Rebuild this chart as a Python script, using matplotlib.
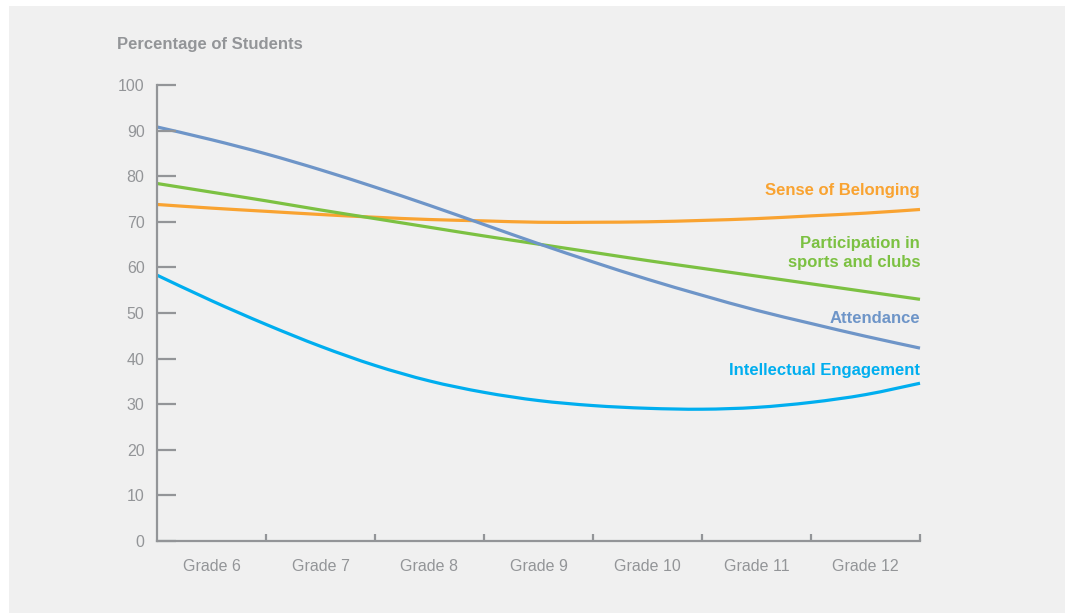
import matplotlib
matplotlib.use("Agg")
import matplotlib.pyplot as plt
import numpy as np
from matplotlib.patches import Rectangle, PathPatch
from matplotlib.path import Path

# ---- data ----
grades = ["Grade 6", "Grade 7", "Grade 8", "Grade 9", "Grade 10", "Grade 11", "Grade 12"]
# sample positions along the grade axis (band edges and band centres)
x_pos = [0, 0.5, 1, 1.5, 2, 2.5, 3, 3.5, 4, 4.5, 5, 5.5, 6, 6.5, 7]

attendance = [90.8, 88.0, 84.9, 81.4, 77.6, 73.6, 69.4, 65.2, 61.2, 57.4, 53.9, 50.6, 47.7, 44.9, 42.3]
belonging = [73.8, 73.0, 72.3, 71.6, 71.0, 70.5, 70.2, 69.9, 69.9, 70.0, 70.3, 70.7, 71.3, 71.9, 72.7]
participation = [78.4, 76.5, 74.6, 72.6, 70.7, 68.8, 66.9, 65.1, 63.3, 61.5, 59.8, 58.1, 56.4, 54.7, 53.0]
engagement = [58.3, 52.7, 47.5, 42.7, 38.5, 35.1, 32.6, 30.8, 29.7, 29.1, 28.9, 29.3, 30.4, 32.1, 34.6]

y_ticks = [0, 10, 20, 30, 40, 50, 60, 70, 80, 90, 100]

C_ORANGE = "#f9a331"
C_GREEN = "#7cc142"
C_BLUE = "#6e95c8"
C_CYAN = "#00aeef"
C_GRAY = "#939598"
C_PANEL = "#f0f0f0"

W, H = 1068, 614
fig = plt.figure(figsize=(W / 100, H / 100), dpi=100, facecolor="white")
fig.patches.append(Rectangle((9 / W, 1 - 613 / H), (1065 - 9) / W, (613 - 6) / H,
                             transform=fig.transFigure, facecolor=C_PANEL,
                             edgecolor="none", zorder=-10))

ax = fig.add_axes([157 / W, 1 - 541 / H, (920 - 157) / W, (541 - 85) / H])
ax.set_zorder(1)
ax.patch.set_visible(False)
ax.set_xlim(0, 7)
ax.set_ylim(0, 100)


def smooth_curve(ax, xs, ys, color, lw):
    """Draw a smooth Bezier curve (Catmull-Rom style) through the data points."""
    P = np.column_stack([xs, ys]).astype(float)
    n = len(P)
    ext = np.vstack([P[0], P, P[-1]])
    verts = [P[0]]
    codes = [Path.MOVETO]
    for i in range(n - 1):
        p0, p1, p2, p3 = ext[i], ext[i + 1], ext[i + 2], ext[i + 3]
        c1 = p1 + (p2 - p0) / 6.0
        c2 = p2 - (p3 - p1) / 6.0
        verts += [c1, c2, p2]
        codes += [Path.CURVE4] * 3
    patch = PathPatch(Path(verts, codes), facecolor="none", edgecolor=color, lw=lw,
                      capstyle="butt", joinstyle="round", clip_on=False)
    ax.add_patch(patch)


lw = 2.3
smooth_curve(ax, x_pos, belonging, C_ORANGE, lw)
smooth_curve(ax, x_pos, participation, C_GREEN, lw)
smooth_curve(ax, x_pos, attendance, C_BLUE, lw)
smooth_curve(ax, x_pos, engagement, C_CYAN, lw)

for s in ["top", "right"]:
    ax.spines[s].set_visible(False)
for s in ["left", "bottom"]:
    ax.spines[s].set_color(C_GRAY)
    ax.spines[s].set_linewidth(1.6)

sans = ["Liberation Sans", "DejaVu Sans"]

ax.set_yticks(y_ticks)
ax.set_yticklabels([str(v) for v in y_ticks], fontsize=11.5, color=C_GRAY, family=sans)
ax.tick_params(axis="y", direction="in", length=13.5, width=1.6, color=C_GRAY, pad=9)

ax.set_xticks(range(1, 8))
ax.set_xticklabels([""] * 7)
ax.tick_params(axis="x", which="major", direction="in", length=5, width=1.6, color=C_GRAY)
ax.set_xticks([i + 0.5 for i in range(7)], minor=True)
ax.set_xticklabels(grades, minor=True, fontsize=11.5, color=C_GRAY, family=sans)
ax.tick_params(axis="x", which="minor", length=0, pad=13)

fig.text(117 / W, 1 - 44.5 / H, "Percentage of Students", fontsize=12, fontweight="bold",
         color=C_GRAY, family=sans, ha="left", va="center")

lab_kw = dict(fontsize=12, fontweight="bold", family=sans, ha="right", va="center")
ax.text(7, 76.8, "Sense of Belonging", color=C_ORANGE, **lab_kw)
ax.text(7, 63.1, "Participation in\nsports and clubs", color=C_GREEN, linespacing=1.3, **lab_kw)
ax.text(7, 48.8, "Attendance", color=C_BLUE, **lab_kw)
ax.text(7, 37.4, "Intellectual Engagement", color=C_CYAN, **lab_kw)

fig.savefig("out.png", dpi=100, facecolor="white")
